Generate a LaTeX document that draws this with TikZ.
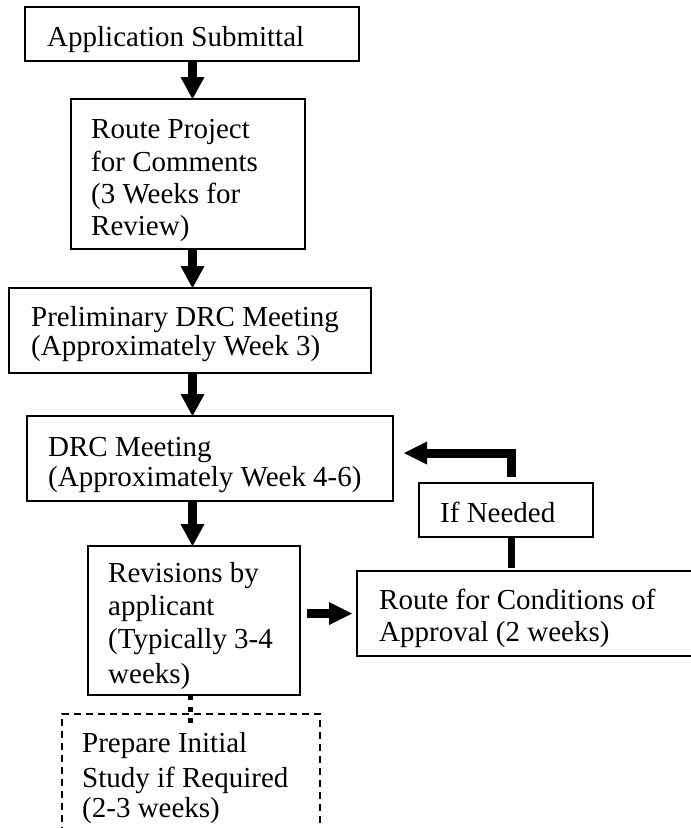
\documentclass[tikz,border=0pt]{standalone}
\usepackage{fontspec}
\setmainfont{Liberation Serif}
\usetikzlibrary{arrows.meta}
\begin{document}
\begin{tikzpicture}[x=1pt,y=-1pt,
  box/.style={draw, line width=1.6pt, inner sep=0pt, outer sep=0pt},
  openbox/.style={inner sep=0pt, outer sep=0pt},
  boxline/.style={line width=1.6pt},
  dbox/.style={box, dash pattern=on 7pt off 5pt},
  txt/.style={anchor=base west, inner sep=0pt, font=\fontsize{29}{33}\selectfont},
  downarrow/.style={line width=9pt, line join=miter, -{Triangle[width=24pt,length=22pt,line width=0pt]}},
  sidearrow/.style={line width=9pt, line join=miter, -{Triangle[width=23pt,length=23pt,line width=0pt]}},
  thickline/.style={line width=7pt},
  dotconn/.style={line width=5pt, dash pattern=on 5pt off 6.5pt}]
\useasboundingbox (0,0) rectangle (691,828);
% boxes
\node[box, minimum width=334pt, minimum height=54pt] (b1) at (192,34) {};
\node[box, minimum width=234pt, minimum height=150pt] (b2) at (188,174) {};
\node[box, minimum width=362pt, minimum height=85pt] (b3) at (190,330.5) {};
\node[box, minimum width=366pt, minimum height=85pt] (b4) at (210,458.5) {};
\node[box, minimum width=212pt, minimum height=149pt] (b5) at (194,620.5) {};
\node[openbox, minimum width=343pt, minimum height=85pt] (b6) at (528.5,613.5) {};
\draw[boxline] (b6.north east) -- (b6.north west) -- (b6.south west) -- (b6.south east);
\node[box, minimum width=174pt, minimum height=54pt] (ifn) at (506,510) {};
\node[openbox, minimum width=258pt, minimum height=120pt] (b7) at (191,774) {};
\draw[boxline, dash pattern=on 7pt off 5pt] (b7.south west) -- (b7.north west) -- (b7.north east) -- (b7.south east);
% texts
\node[txt] (t1) at (47,46) {Application Submittal};
\node[txt] (t2a) at (91,138) {Route Project};
\node[txt] (t2b) at (91,171) {for Comments};
\node[txt] (t2c) at (91,203) {(3 Weeks for};
\node[txt] (t2d) at (91,235) {Review)};
\node[txt] (t3a) at (31,326) {Preliminary DRC Meeting};
\node[txt] (t3b) at (31,355) {(Approximately Week 3)};
\node[txt] (t4a) at (48,456) {DRC Meeting};
\node[txt] (t4b) at (48,486) {(Approximately Week 4-6)};
\node[txt] (t5a) at (108,582) {Revisions by};
\node[txt] (t5b) at (108,615) {applicant};
\node[txt] (t5c) at (108,648) {(Typically 3-4};
\node[txt] (t5d) at (108,683) {weeks)};
\node[txt] (t6a) at (379,609) {Route for Conditions of};
\node[txt] (t6b) at (379,641) {Approval (2 weeks)};
\node[txt] (tif) at (440,522) {If Needed};
\node[txt] (t7a) at (82,752) {Prepare Initial};
\node[txt] (t7b) at (82,787) {Study if Required};
\node[txt] (t7c) at (82,817) {(2-3 weeks)};
% connectors
\coordinate (ax) at (192.5,0);
\draw[downarrow] (b1.south -| ax) -- (b2.north -| ax);
\draw[downarrow] (b2.south -| ax) -- (b3.north -| ax);
\draw[downarrow] (b3.south -| ax) -- (b4.north -| ax);
\draw[downarrow] (b4.south -| ax) -- (b5.north -| ax);
\draw[sidearrow, shorten <=7pt, shorten >=5pt] (b5.east |- b6.west) -- (b6.west);
\coordinate (fb) at (511,453);
\draw[sidearrow, shorten <=6pt, shorten >=11pt] (ifn.north -| fb) -- (fb) -- (b4.east |- fb);
\draw[thickline, shorten >=3pt] (ifn.south -| fb) -- (b6.north -| fb);
\coordinate (dx) at (190,0);
\draw[dotconn, shorten >=-9pt] (b5.south -| dx) -- (b7.north -| dx);
\end{tikzpicture}
\end{document}
